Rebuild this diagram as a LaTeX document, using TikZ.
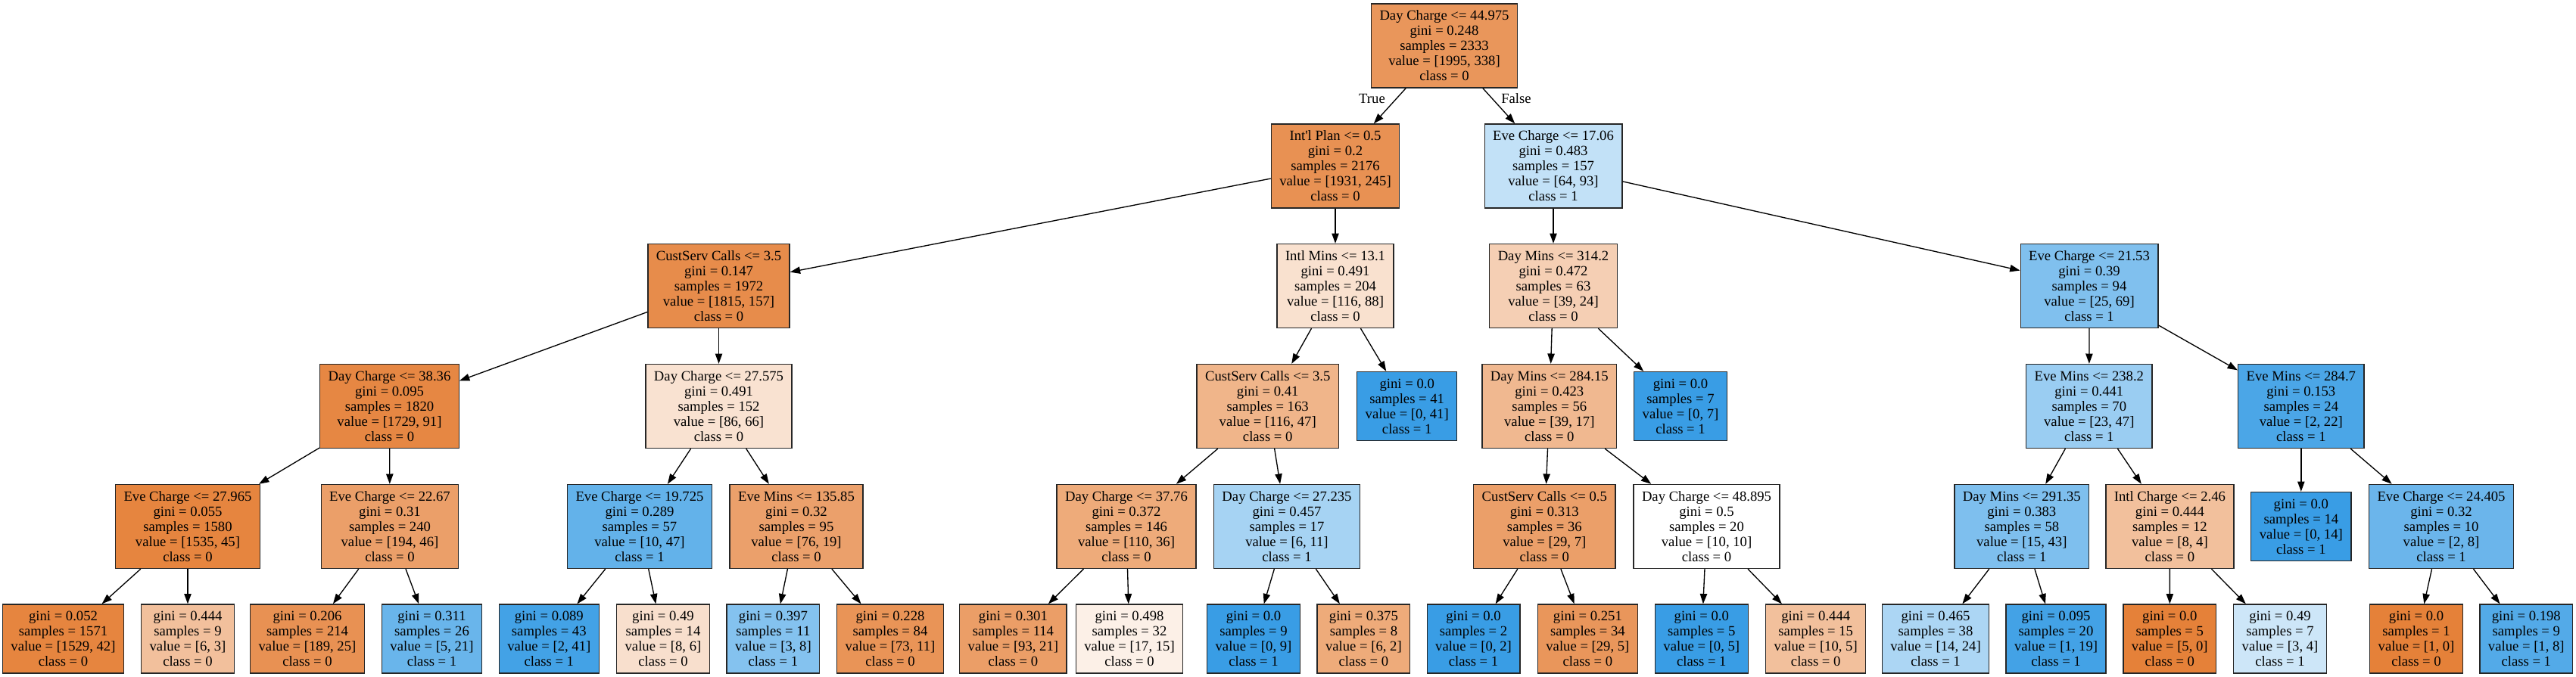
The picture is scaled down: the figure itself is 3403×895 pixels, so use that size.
\documentclass[tikz,border=0pt]{standalone}
\usepackage{fontspec}
\setmainfont{Liberation Serif}
\usetikzlibrary{arrows.meta}
\definecolor{co}{RGB}{229,129,57}
\definecolor{cb}{RGB}{57,157,229}
\tikzset{
  treebox/.style={draw=black!85, line width=1pt, rectangle, align=center,
    inner xsep=8.25pt, inner ysep=0pt, font=\fontsize{14}{15}\selectfont},
  bfive/.style={treebox, minimum height=83.25pt},
  bfour/.style={treebox, minimum height=68.25pt},
  edge/.style={draw=black, line width=1pt, -{Triangle[length=10pt,width=7pt]}},
  elabel/.style={font=\fontsize{14}{15}\selectfont, inner sep=0pt}
}
\begin{document}
\begin{tikzpicture}[x=0.75pt,y=-0.75pt]
\useasboundingbox (0,0) rectangle (3403,895);
% level 0
\node[bfive, fill=co!83] (n0) at (1908,60.5) {Day Charge <= 44.975\\gini = 0.248\\samples = 2333\\value = [1995, 338]\\class = 0};
% level 1
\node[bfive, fill=co!87] (n1) at (1764,219.5) {Int\textquotesingle l Plan <= 0.5\\gini = 0.2\\samples = 2176\\value = [1931, 245]\\class = 0};
\node[bfive, fill=cb!31] (n2) at (2052,219.5) {Eve Charge <= 17.06\\gini = 0.483\\samples = 157\\value = [64, 93]\\class = 1};
% level 2
\node[bfive, fill=co!91] (n3) at (949.5,378) {CustServ Calls <= 3.5\\gini = 0.147\\samples = 1972\\value = [1815, 157]\\class = 0};
\node[bfive, fill=co!24] (n4) at (1764,378) {Intl Mins <= 13.1\\gini = 0.491\\samples = 204\\value = [116, 88]\\class = 0};
\node[bfive, fill=co!38] (n5) at (2052,378) {Day Mins <= 314.2\\gini = 0.472\\samples = 63\\value = [39, 24]\\class = 0};
\node[bfive, fill=cb!64] (n6) at (2760,378) {Eve Charge <= 21.53\\gini = 0.39\\samples = 94\\value = [25, 69]\\class = 1};
% level 3
\node[bfive, fill=co!95] (n7) at (514.5,537) {Day Charge <= 38.36\\gini = 0.095\\samples = 1820\\value = [1729, 91]\\class = 0};
\node[bfive, fill=co!23] (n8) at (949.5,537) {Day Charge <= 27.575\\gini = 0.491\\samples = 152\\value = [86, 66]\\class = 0};
\node[bfive, fill=co!59] (n9) at (1674.7,537) {CustServ Calls <= 3.5\\gini = 0.41\\samples = 163\\value = [116, 47]\\class = 0};
\node[bfour, fill=cb] (n10) at (1858.7,537) {gini = 0.0\\samples = 41\\value = [0, 41]\\class = 1};
\node[bfive, fill=co!56] (n11) at (2046.8,537) {Day Mins <= 284.15\\gini = 0.423\\samples = 56\\value = [39, 17]\\class = 0};
\node[bfour, fill=cb] (n12) at (2220,537) {gini = 0.0\\samples = 7\\value = [0, 7]\\class = 1};
\node[bfive, fill=cb!51] (n13) at (2759.8,537) {Eve Mins <= 238.2\\gini = 0.441\\samples = 70\\value = [23, 47]\\class = 1};
\node[bfive, fill=cb!91] (n14) at (3039.8,537) {Eve Mins <= 284.7\\gini = 0.153\\samples = 24\\value = [2, 22]\\class = 1};
% level 4
\node[bfive, fill=co!97] (n15) at (248,696) {Eve Charge <= 27.965\\gini = 0.055\\samples = 1580\\value = [1535, 45]\\class = 0};
\node[bfive, fill=co!76] (n16) at (515,696) {Eve Charge <= 22.67\\gini = 0.31\\samples = 240\\value = [194, 46]\\class = 0};
\node[bfive, fill=cb!79] (n17) at (845,696) {Eve Charge <= 19.725\\gini = 0.289\\samples = 57\\value = [10, 47]\\class = 1};
\node[bfive, fill=co!75] (n18) at (1052,696) {Eve Mins <= 135.85\\gini = 0.32\\samples = 95\\value = [76, 19]\\class = 0};
\node[bfive, fill=co!67] (n19) at (1488,696) {Day Charge <= 37.76\\gini = 0.372\\samples = 146\\value = [110, 36]\\class = 0};
\node[bfive, fill=cb!45] (n20) at (1700,696) {Day Charge <= 27.235\\gini = 0.457\\samples = 17\\value = [6, 11]\\class = 1};
\node[bfive, fill=co!76] (n21) at (2040.3,696) {CustServ Calls <= 0.5\\gini = 0.313\\samples = 36\\value = [29, 7]\\class = 0};
\node[bfive, fill=white] (n22) at (2254.5,696) {Day Charge <= 48.895\\gini = 0.5\\samples = 20\\value = [10, 10]\\class = 0};
\node[bfive, fill=cb!65] (n23) at (2670.8,696) {Day Mins <= 291.35\\gini = 0.383\\samples = 58\\value = [15, 43]\\class = 1};
\node[bfive, fill=co!50] (n24) at (2866.4,696) {Intl Charge <= 2.46\\gini = 0.444\\samples = 12\\value = [8, 4]\\class = 0};
\node[bfour, fill=cb] (n25) at (3039.8,696) {gini = 0.0\\samples = 14\\value = [0, 14]\\class = 1};
\node[bfive, fill=cb!75] (n26) at (3225,696) {Eve Charge <= 24.405\\gini = 0.32\\samples = 10\\value = [2, 8]\\class = 1};
% level 5
\node[bfour, fill=co!97] (l1) at (83.5,844.5) {gini = 0.052\\samples = 1571\\value = [1529, 42]\\class = 0};
\node[bfour, fill=co!50] (l2) at (248,844.5) {gini = 0.444\\samples = 9\\value = [6, 3]\\class = 0};
\node[bfour, fill=co!87] (l3) at (406,844.5) {gini = 0.206\\samples = 214\\value = [189, 25]\\class = 0};
\node[bfour, fill=cb!76] (l4) at (570.5,844.5) {gini = 0.311\\samples = 26\\value = [5, 21]\\class = 1};
\node[bfour, fill=cb!95] (l5) at (725.3,844.5) {gini = 0.089\\samples = 43\\value = [2, 41]\\class = 1};
\node[bfour, fill=co!25] (l6) at (876,844.5) {gini = 0.49\\samples = 14\\value = [8, 6]\\class = 0};
\node[bfour, fill=cb!62] (l7) at (1021.4,844.5) {gini = 0.397\\samples = 11\\value = [3, 8]\\class = 1};
\node[bfour, fill=co!85] (l8) at (1176,844.5) {gini = 0.228\\samples = 84\\value = [73, 11]\\class = 0};
\node[bfour, fill=co!77] (l9) at (1338.4,844.5) {gini = 0.301\\samples = 114\\value = [93, 21]\\class = 0};
\node[bfour, fill=co!12] (l10) at (1492,844.5) {gini = 0.498\\samples = 32\\value = [17, 15]\\class = 0};
\node[bfour, fill=cb] (l11) at (1656,844.5) {gini = 0.0\\samples = 9\\value = [0, 9]\\class = 1};
\node[bfour, fill=co!67] (l12) at (1801.4,844.5) {gini = 0.375\\samples = 8\\value = [6, 2]\\class = 0};
\node[bfour, fill=cb] (l13) at (1946.5,844.5) {gini = 0.0\\samples = 2\\value = [0, 2]\\class = 1};
\node[bfour, fill=co!83] (l14) at (2097.4,844.5) {gini = 0.251\\samples = 34\\value = [29, 5]\\class = 0};
\node[bfour, fill=cb] (l15) at (2247.8,844.5) {gini = 0.0\\samples = 5\\value = [0, 5]\\class = 1};
\node[bfour, fill=co!50] (l16) at (2398.7,844.5) {gini = 0.444\\samples = 15\\value = [10, 5]\\class = 0};
\node[bfour, fill=cb!42] (l17) at (2557,844.5) {gini = 0.465\\samples = 38\\value = [14, 24]\\class = 1};
\node[bfour, fill=cb!95] (l18) at (2716,844.5) {gini = 0.095\\samples = 20\\value = [1, 19]\\class = 1};
\node[bfour, fill=co] (l19) at (2866.3,844.5) {gini = 0.0\\samples = 5\\value = [5, 0]\\class = 0};
\node[bfour, fill=cb!25] (l20) at (3012,844.5) {gini = 0.49\\samples = 7\\value = [3, 4]\\class = 1};
\node[bfour, fill=co] (l21) at (3192,844.5) {gini = 0.0\\samples = 1\\value = [1, 0]\\class = 0};
\node[bfour, fill=cb!87] (l22) at (3337.3,844.5) {gini = 0.198\\samples = 9\\value = [1, 8]\\class = 1};
% edge labels
\node[elabel] (tlab) at (1812.5,130) {True};
\node[elabel] (flab) at (2003,130) {False};
% edges
\draw[edge] (n0) -- (n1);
\draw[edge] (n0) -- (n2);
\draw[edge] (n1) -- (n3);
\draw[edge] (n1) -- (n4);
\draw[edge] (n2) -- (n5);
\draw[edge] (n2) -- (n6);
\draw[edge] (n3) -- (n7);
\draw[edge] (n3) -- (n8);
\draw[edge] (n4) -- (n9);
\draw[edge] (n4) -- (n10);
\draw[edge] (n5) -- (n11);
\draw[edge] (n5) -- (n12);
\draw[edge] (n6) -- (n13);
\draw[edge] (n6) -- (n14);
\draw[edge] (n7) -- (n15);
\draw[edge] (n7) -- (n16);
\draw[edge] (n8) -- (n17);
\draw[edge] (n8) -- (n18);
\draw[edge] (n9) -- (n19);
\draw[edge] (n9) -- (n20);
\draw[edge] (n11) -- (n21);
\draw[edge] (n11) -- (n22);
\draw[edge] (n13) -- (n23);
\draw[edge] (n13) -- (n24);
\draw[edge] (n14) -- (n25);
\draw[edge] (n14) -- (n26);
\draw[edge] (n15) -- (l1);
\draw[edge] (n15) -- (l2);
\draw[edge] (n16) -- (l3);
\draw[edge] (n16) -- (l4);
\draw[edge] (n17) -- (l5);
\draw[edge] (n17) -- (l6);
\draw[edge] (n18) -- (l7);
\draw[edge] (n18) -- (l8);
\draw[edge] (n19) -- (l9);
\draw[edge] (n19) -- (l10);
\draw[edge] (n20) -- (l11);
\draw[edge] (n20) -- (l12);
\draw[edge] (n21) -- (l13);
\draw[edge] (n21) -- (l14);
\draw[edge] (n22) -- (l15);
\draw[edge] (n22) -- (l16);
\draw[edge] (n23) -- (l17);
\draw[edge] (n23) -- (l18);
\draw[edge] (n24) -- (l19);
\draw[edge] (n24) -- (l20);
\draw[edge] (n26) -- (l21);
\draw[edge] (n26) -- (l22);
\end{tikzpicture}
\end{document}
